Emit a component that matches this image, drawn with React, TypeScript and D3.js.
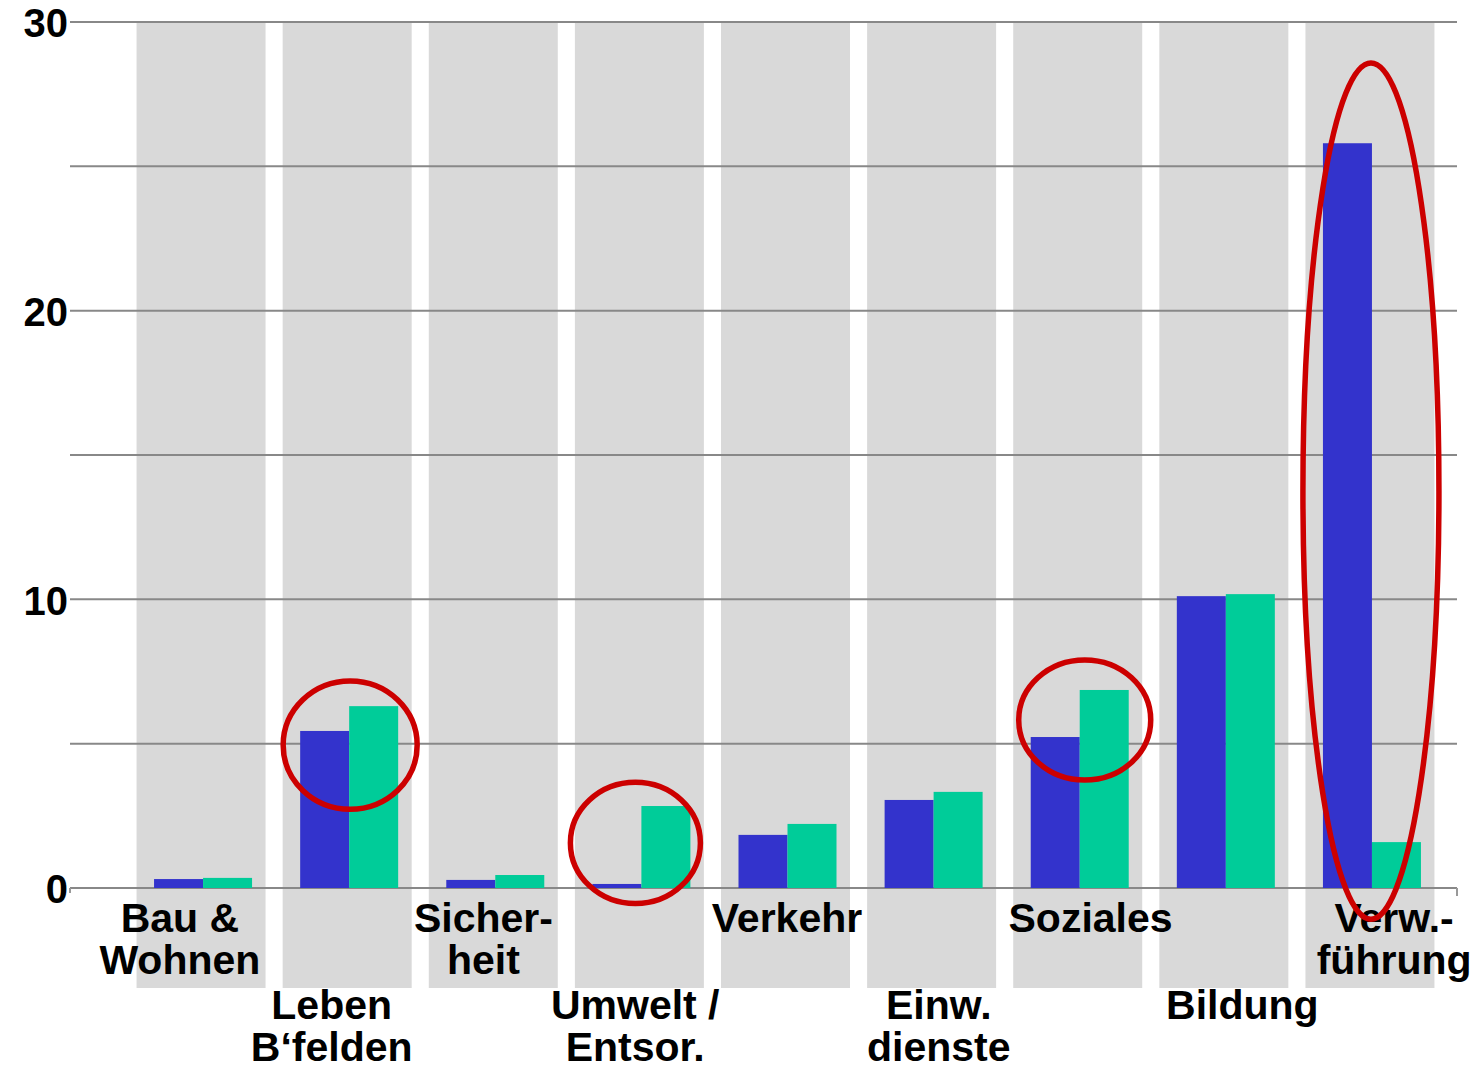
import React from "react";
import * as d3 from "d3";

const categories = ["Bau", "Leben", "Sicherheit", "Umwelt", "Verkehr", "Einw", "Soziales", "Bildung", "Verw"];
const labelLines: string[][] = [
  ["Bau &", "Wohnen"],
  ["Leben", "B‘felden"],
  ["Sicher-", "heit"],
  ["Umwelt /", "Entsor."],
  ["Verkehr"],
  ["Einw.", "dienste"],
  ["Soziales"],
  ["Bildung"],
  ["Verw.-", "führung"],
];
const seriesBlue = [0.31, 5.44, 0.28, 0.14, 1.84, 3.05, 5.23, 10.11, 25.8];
const seriesGreen = [0.35, 6.3, 0.45, 2.84, 2.22, 3.33, 6.86, 10.18, 1.59];
const gridValues = [0, 5, 10, 15, 20, 25, 30];
const tickLabels = [0, 10, 20, 30];
// annotation ellipses: category, x-offset (px), center value, radius x (px), radius in value units
const highlights = [
  { cat: "Leben", dx: 1, cy: 4.95, rx: 67, ry: 2.22 },
  { cat: "Umwelt", dx: -6, cy: 1.56, rx: 65, ry: 2.1 },
  { cat: "Soziales", dx: 5, cy: 5.82, rx: 66, ry: 2.08 },
  { cat: "Verw", dx: -1, cy: 13.75, rx: 68, ry: 14.83 },
];

const W = 1474;
const H = 1071;
const BLUE = "#3333cc";
const GREEN = "#00cc99";
const GRAY = "#d9d9d9";
const RED = "#cc0000";
const FONT = "'Liberation Sans', Arial, sans-serif";

export default function App() {
  const y = d3.scaleLinear().domain([0, 30]).range([888, 22]);
  const x = d3.scaleBand<string>().domain(categories).range([130, 1445]);
  const xl = d3.scaleBand<string>().domain(categories).range([104, 1470]);
  const barW = 49;
  const colW = 129;
  const gridX0 = 70;
  const gridX1 = 1457;

  return (
    <div style={{ position: "absolute", left: 0, top: 0 }}>
      <svg width={W} height={H} style={{ display: "block", background: "#fff" }}>
        {categories.map((c) => {
          const cx = x(c)! + x.bandwidth() / 2 - 2;
          return <rect key={"col" + c} x={cx - colW / 2} y={y(30)} width={colW} height={988 - y(30)} fill={GRAY} />;
        })}
        {gridValues.map((v) => (
          <line key={"g" + v} x1={gridX0} x2={gridX1} y1={y(v)} y2={y(v)} stroke="#888" strokeWidth={2} />
        ))}
        <line x1={gridX0} x2={gridX0} y1={y(0)} y2={y(0) + 5} stroke="#999" strokeWidth={2} />
        <line x1={gridX1} x2={gridX1} y1={y(0)} y2={y(0) + 8} stroke="#999" strokeWidth={2} />
        {tickLabels.map((v) => (
          <text key={"t" + v} x={68} y={y(v)} dy="0.38em" textAnchor="end" fontFamily={FONT} fontWeight="bold" fontSize={40} fill="#000">
            {v}
          </text>
        ))}
        {categories.map((c, i) => {
          const cx = x(c)! + x.bandwidth() / 2;
          return (
            <g key={"b" + c}>
              <rect x={cx - barW} y={y(seriesBlue[i])} width={barW} height={y(0) - y(seriesBlue[i])} fill={BLUE} />
              <rect x={cx} y={y(seriesGreen[i])} width={barW} height={y(0) - y(seriesGreen[i])} fill={GREEN} />
            </g>
          );
        })}
        {categories.map((c, i) => {
          const cx = xl(c)! + xl.bandwidth() / 2;
          const base = i % 2 === 0 ? 932 : 1019;
          return (
            <text key={"l" + c} x={cx} y={base} textAnchor="middle" fontFamily={FONT} fontWeight="bold" fontSize={41} fill="#000">
              {labelLines[i].map((ln, k) => (
                <tspan key={k} x={cx} y={base + k * 42}>
                  {ln}
                </tspan>
              ))}
            </text>
          );
        })}
        {highlights.map((h) => {
          const cx = x(h.cat)! + x.bandwidth() / 2 + h.dx;
          const cy = y(h.cy);
          const ry = y(0) - y(h.ry);
          return <ellipse key={"e" + h.cat} cx={cx} cy={cy} rx={h.rx} ry={ry} fill="none" stroke={RED} strokeWidth={5.5} />;
        })}
      </svg>
    </div>
  );
}
